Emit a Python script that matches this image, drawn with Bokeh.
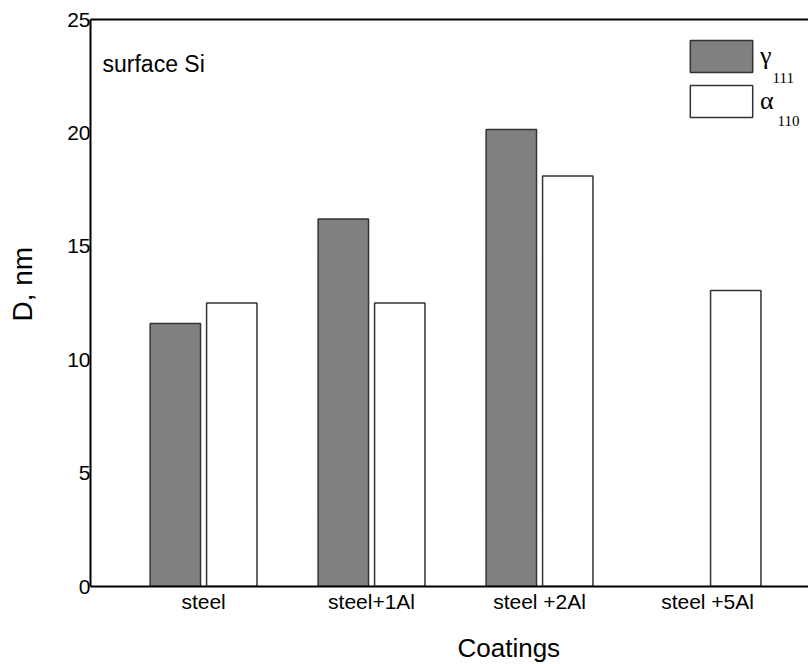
import numpy as np
from bokeh.plotting import figure
from bokeh.models import Range1d, FixedTicker, LinearAxis, Legend, LegendItem, Label, Title
from bokeh.embed import file_html
from bokeh.resources import INLINE

# ---- data ----
coatings = ["steel", "steel+1Al", "steel +2Al", "steel +5Al"]
gamma_111 = [11.6, 16.2, 20.15, np.nan]
alpha_110 = [12.5, 12.5, 18.1, 13.05]
y_ticks = [0, 5, 10, 15, 20, 25]

FONT = "Liberation Sans"
SERIF = "Liberation Serif"

x = np.arange(1, len(coatings) + 1, dtype=float)
offset = 0.168
bar_w = 0.30

p = figure(width=808, height=664, output_backend="svg", toolbar_location=None,
           x_range=Range1d(0.327, 4.601), y_range=Range1d(0, 25),
           min_border_left=90, min_border_right=0, min_border_top=19,
           min_border_bottom=78)
p.outline_line_color = None
p.grid.visible = False
p.background_fill_color = "white"
p.border_fill_color = "white"

g = p.vbar(x=x - offset, top=gamma_111, bottom=0, width=bar_w,
           fill_color="#808080", line_color="#333333", line_width=1.5)
a = p.vbar(x=x + offset, top=alpha_110, bottom=0, width=bar_w,
           fill_color="white", line_color="#333333", line_width=1.5)

# axes
for ax in (p.xaxis[0], p.yaxis[0]):
    ax.major_tick_out = 0
    ax.major_tick_in = 0
    ax.minor_tick_out = 0
    ax.minor_tick_in = 0
    ax.axis_line_width = 2
    ax.axis_line_color = "black"
    ax.major_label_text_font = FONT
    ax.major_label_text_color = "black"
    ax.major_label_text_font_size = "21px"

p.yaxis.ticker = FixedTicker(ticks=y_ticks)
p.yaxis.major_label_standoff = 0
p.xaxis.ticker = FixedTicker(ticks=list(x))
p.xaxis.major_label_overrides = {float(v): c for v, c in zip(x, coatings)}
p.xaxis.major_label_standoff = 3

top_axis = LinearAxis(ticker=FixedTicker(ticks=[]), major_label_text_font_size="0px",
                      major_tick_out=0, major_tick_in=0, minor_tick_out=0, minor_tick_in=0,
                      axis_line_width=2, axis_line_color="black")
p.add_layout(top_axis, "above")


def spacer(size, tick):
    # blank axis (white tick on white border) that only reserves space
    # between an axis and its title
    return LinearAxis(ticker=FixedTicker(ticks=[tick]), major_label_text_font_size="0px",
                      major_label_overrides={tick: ""},
                      major_label_standoff=0, major_tick_out=size, major_tick_in=0,
                      minor_tick_out=0, minor_tick_in=0, axis_line_color=None,
                      major_tick_line_color="white", major_tick_line_width=1)


p.add_layout(spacer(15, 0.4), "below")
p.add_layout(Title(text="Coatings", align="left", offset=367, standoff=0,
                   text_font=FONT, text_font_size="26px", text_font_style="normal",
                   text_color="black"), "below")
p.add_layout(spacer(27, 2.5), "left")
p.add_layout(Title(text="D, nm", align="left", offset=265, standoff=0,
                   text_font=FONT, text_font_size="28px", text_font_style="normal",
                   text_color="black"), "left")

# legend
legend = Legend(items=[LegendItem(label="γ", renderers=[g]),
                       LegendItem(label="α", renderers=[a])],
                location=(592, 465), glyph_width=78, glyph_height=40, spacing=5,
                padding=0, margin=0, border_line_color=None, background_fill_alpha=0,
                label_standoff=0, label_text_font=SERIF, label_text_font_size="26px",
                label_text_color="black")
p.add_layout(legend)

p.add_layout(Label(x=682, y=509, x_units="screen", y_units="screen", text="111",
                   text_font=SERIF, text_font_size="15px", text_baseline="alphabetic",
                   text_color="black"))
p.add_layout(Label(x=687, y=466, x_units="screen", y_units="screen", text="110",
                   text_font=SERIF, text_font_size="15px", text_baseline="alphabetic",
                   text_color="black"))

p.add_layout(Label(x=12, y=523, x_units="screen", y_units="screen", text="surface Si",
                   text_font=FONT, text_font_size="23px", text_baseline="alphabetic",
                   text_color="black"))

open("out.html", "w").write(file_html(p, INLINE))
